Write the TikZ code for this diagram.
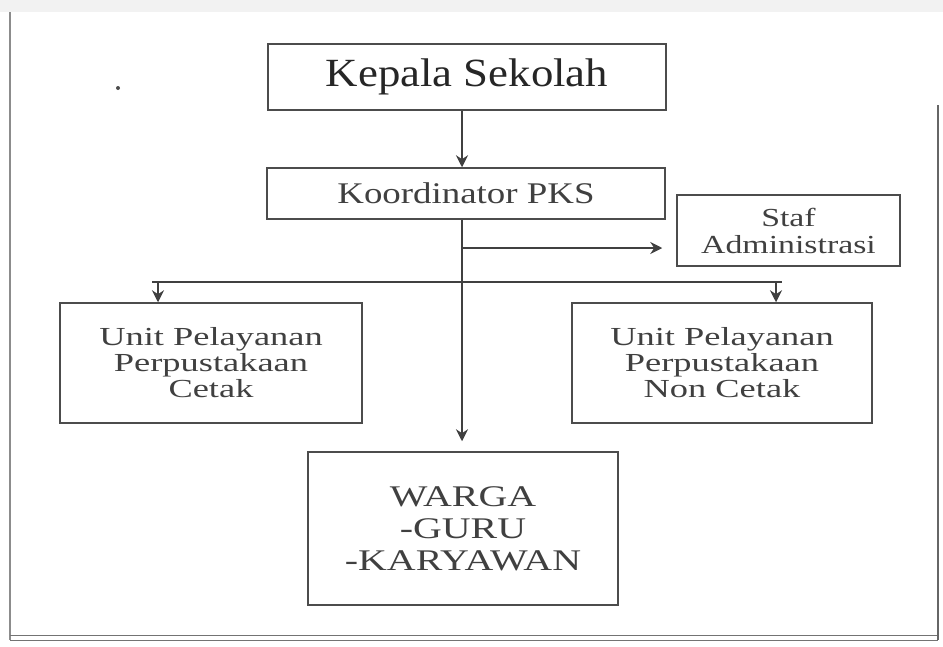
\documentclass[tikz,border=0pt]{standalone}
\usepackage{fontspec}
\setmainfont{Liberation Serif}
\usetikzlibrary{arrows.meta}
\begin{document}
\begin{tikzpicture}[x=1pt,y=-1pt,
 box/.style={draw=black!70, line width=1.5pt, inner sep=0pt, align=center, text=black!75},
 conn/.style={draw=black!75, line width=1.6pt},
 arr/.style={conn, -{Stealth[length=12pt,width=12pt]}}
]
\useasboundingbox (0,0) rectangle (943,646);
% page frame
\fill[black!5] (0,0) rectangle (943,12);
\draw[black!45, line width=1.5pt] (10,12) -- (10,640);
\draw[black!55, line width=1pt] (10,635) -- (938,635);
\draw[black!55, line width=1pt] (10,640) -- (938,640);
\draw[black!60, line width=1.5pt] (938,105) -- (938,640);
\fill[black!70] (118,88) circle (2pt);

% boxes
\node[box, minimum width=398pt, minimum height=66pt, text=black!85,
  font=\fontsize{40}{40}\selectfont] (kepala) at (467,77)
  {\scalebox{1.12}[1]{Kepala Sekolah}};
\node[box, minimum width=398pt, minimum height=51pt,
  font=\fontsize{30}{30}\selectfont] (koord) at (466,193.5)
  {\scalebox{1.23}[1]{Koordinator PKS}};
\node[box, minimum width=223pt, minimum height=71pt,
  font=\fontsize{26}{27}\selectfont] (staf) at (788.5,230.5)
  {\scalebox{1.3}[1]{Staf}\\\scalebox{1.3}[1]{Administrasi}};
\node[box, minimum width=302pt, minimum height=120pt,
  font=\fontsize{26}{26}\selectfont] (kiri) at (211,363)
  {\scalebox{1.4}[1]{Unit Pelayanan}\\\scalebox{1.4}[1]{Perpustakaan}\\\scalebox{1.4}[1]{Cetak}};
\node[box, minimum width=300pt, minimum height=120pt,
  font=\fontsize{26}{26}\selectfont] (kanan) at (722,363)
  {\scalebox{1.4}[1]{Unit Pelayanan}\\\scalebox{1.4}[1]{Perpustakaan}\\\scalebox{1.4}[1]{Non Cetak}};
\node[box, minimum width=310pt, minimum height=153pt,
  font=\fontsize{30}{32}\selectfont] (bawah) at (463,528.5)
  {\scalebox{1.33}[1]{WARGA}\\\scalebox{1.33}[1]{-GURU}\\\scalebox{1.33}[1]{-KARYAWAN}};

% connectors
\coordinate (tx) at (462,0);
\coordinate (sj) at (462,248);
\coordinate (bl) at (158,282);
\coordinate (br) at (776,282);
\draw[arr] (kepala.south -| tx) -- (koord.north -| tx);
\draw[arr, shorten >=10pt] (koord.south -| tx) -- (bawah.north -| tx);
\draw[arr, shorten >=14pt] (sj) -- (staf.west |- sj);
\draw[conn] ([xshift=-6pt]bl) -- ([xshift=6pt]br);
\draw[arr] (bl) -- (kiri.north -| bl);
\draw[arr] (br) -- (kanan.north -| br);
\end{tikzpicture}
\end{document}
